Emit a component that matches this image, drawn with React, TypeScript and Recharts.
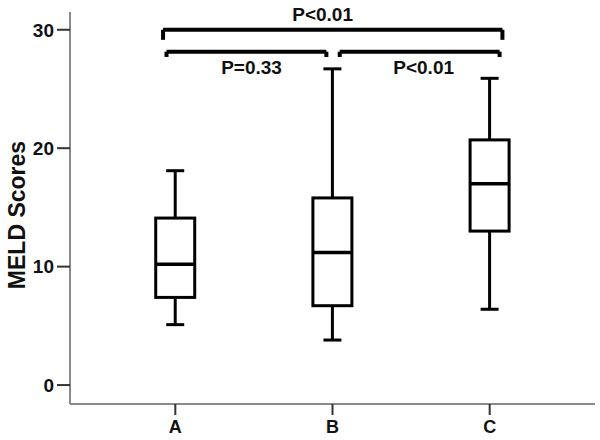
import React from 'react';
import {
  ComposedChart,
  Bar,
  XAxis,
  YAxis,
  ReferenceLine,
  ReferenceDot,
} from 'recharts';

const categories = ['A', 'B', 'C'];
const whiskerMin = [5.1, 3.8, 6.4];
const q1 = [7.4, 6.7, 13.0];
const median = [10.2, 11.2, 17.0];
const q3 = [14.1, 15.8, 20.7];
const whiskerMax = [18.1, 26.7, 25.9];
const yTicks = [0, 10, 20, 30];
const yTitle = 'MELD Scores';

// significance brackets: [x1, x2, yLine, yEnd]
const bracketTop = [0.922, 3.081, 30.0, 29.15];
const bracketLeft = [0.944, 1.961, 28.15, 27.7];
const bracketRight = [2.046, 3.063, 28.15, 27.7];
const pLabels = [
  { text: 'P<0.01', x: 1.937, y: 31.3 },
  { text: 'P=0.33', x: 1.485, y: 26.8 },
  { text: 'P<0.01', x: 2.58, y: 26.8 },
];

const data = categories.map((c, i) => ({
  pos: i + 1,
  name: c,
  range: [whiskerMin[i], whiskerMax[i]],
  min: whiskerMin[i],
  q1: q1[i],
  median: median[i],
  q3: q3[i],
  max: whiskerMax[i],
}));

const FONT = "'Liberation Sans', Arial, sans-serif";

const BoxShape = (props: any) => {
  const { x, y, width, height, payload } = props;
  if (x == null || y == null) return null;
  const top = Math.min(y, y + height);
  const h = Math.abs(height);
  const k = h / (payload.max - payload.min);
  const py = (v: number) => top + (payload.max - v) * k;
  const cx = x + width / 2;
  const cap = 9;
  return (
    <g stroke="#000" strokeWidth={3} fill="none">
      <line x1={cx} x2={cx} y1={py(payload.max)} y2={py(payload.min)} />
      <line x1={cx - cap} x2={cx + cap} y1={py(payload.max)} y2={py(payload.max)} />
      <line x1={cx - cap} x2={cx + cap} y1={py(payload.min)} y2={py(payload.min)} />
      <rect
        x={x}
        y={py(payload.q3)}
        width={width}
        height={py(payload.q1) - py(payload.q3)}
        fill="#fff"
      />
      <line x1={x} x2={x + width} y1={py(payload.median)} y2={py(payload.median)} strokeWidth={3.5} />
    </g>
  );
};

const YTitle = (props: any) => {
  const vb = props.viewBox || {};
  const cx = 17;
  const cy = (vb.y ?? 12) + (vb.height ?? 392) / 2 + 7;
  return (
    <text
      x={cx}
      y={cy}
      transform={`rotate(-90, ${cx}, ${cy})`}
      textAnchor="middle"
      dominantBaseline="central"
      fill="#111"
      fontSize={23}
      fontWeight="bold"
      fontFamily={FONT}
    >
      {yTitle}
    </text>
  );
};

const bracketSegments = (b: number[]) => [
  [{ x: b[0], y: b[2] }, { x: b[1], y: b[2] }],
  [{ x: b[0], y: b[2] }, { x: b[0], y: b[3] }],
  [{ x: b[1], y: b[2] }, { x: b[1], y: b[3] }],
];

export default function App() {
  const segs = [
    ...bracketSegments(bracketTop),
    ...bracketSegments(bracketLeft),
    ...bracketSegments(bracketRight),
  ];
  return (
    <div style={{ position: 'absolute', left: 0, top: 0, background: '#fff' }}>
      <ComposedChart
        width={600}
        height={440}
        data={data}
        margin={{ top: 12, right: 5, left: 0, bottom: 0 }}
      >
        <XAxis
          dataKey="pos"
          type="number"
          domain={[0.33, 3.67]}
          ticks={[1, 2, 3]}
          tickFormatter={(v: number) => categories[v - 1]}
          allowDataOverflow
          height={36}
          stroke="#8a8a8a"
          strokeWidth={2}
          tickSize={11}
          tickMargin={5}
          tickLine={{ stroke: '#333', strokeWidth: 2 }}
          tick={{ fill: '#111', fontSize: 18, fontWeight: 'bold', fontFamily: FONT }}
        />
        <YAxis
          type="number"
          domain={[-1.6, 31.5]}
          ticks={yTicks}
          allowDataOverflow
          width={70}
          stroke="#8a8a8a"
          strokeWidth={2}
          tickSize={13}
          tickMargin={3}
          tickLine={{ stroke: '#333', strokeWidth: 2 }}
          tick={{ fill: '#111', fontSize: 19, fontWeight: 'bold', fontFamily: FONT }}
          label={<YTitle />}
        />
        <Bar
          dataKey="range"
          barSize={39}
          shape={<BoxShape />}
          isAnimationActive={false}
        />
        {segs.map((s, i) => (
          <ReferenceLine
            key={i}
            segment={s}
            stroke="#000"
            strokeWidth={4}
            ifOverflow="visible"
          />
        ))}
        {pLabels.map((p, i) => (
          <ReferenceDot
            key={'p' + i}
            x={p.x}
            y={p.y}
            r={0}
            fill="none"
            stroke="none"
            ifOverflow="visible"
            label={{
              value: p.text,
              position: 'center',
              fill: '#111',
              fontSize: 19,
              fontWeight: 'bold',
              fontFamily: FONT,
            }}
          />
        ))}
      </ComposedChart>
    </div>
  );
}
